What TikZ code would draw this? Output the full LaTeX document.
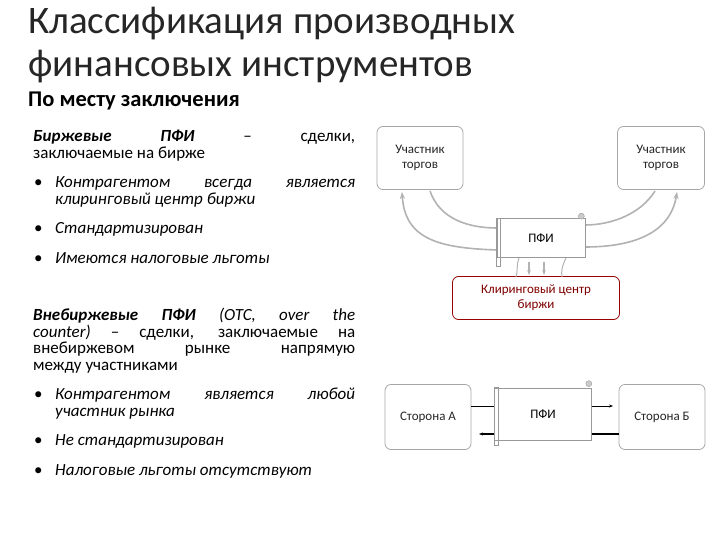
\documentclass[tikz,border=0pt]{standalone}
\usepackage{fontspec}
\setmainfont{Carlito}
\usetikzlibrary{arrows.meta}
\newcommand{\bitem}{\par\vspace{13pt}\noindent\hangindent=22pt\hangafter=1\makebox[22pt][l]{\hspace{1pt}•}}
\tikzset{
 box/.style={draw=gray!70,rounded corners=6pt,line width=0.8pt,align=center,font=\fontsize{13}{15}\selectfont,text=black!85},
 scroll/.style={draw=gray!80,fill=white,line width=0.7pt,align=center,font=\fontsize{13}{15}\selectfont},
 garr/.style={draw=gray!60,line width=1.6pt},
 body/.style={anchor=north west,text width=322pt,align=justify,font=\fontsize{17}{16.5}\selectfont,inner sep=0pt},
}
\begin{document}
\begin{tikzpicture}[x=1pt,y=-1pt]
\useasboundingbox (0,0) rectangle (720,540);
\node[anchor=west,inner sep=0pt,font=\fontsize{39}{39}\selectfont,text=black!85] (t1) at (28,24) {Классификация производных};
\node[anchor=west,inner sep=0pt,font=\fontsize{39}{39}\selectfont,text=black!85] (t2) at (28,67) {финансовых инструментов};
\node[anchor=west,inner sep=0pt,font=\fontsize{22.5}{22}\selectfont\bfseries] (t3) at (28,101) {По месту заключения};
\node[body] (b1) at (33,130) {\textbf{\textit{Биржевые ПФИ}} – сделки,\linebreak заключаемые на бирже
\bitem\textit{Контрагентом всегда является\linebreak клиринговый центр биржи}
\bitem\textit{Стандартизирован}
\bitem\textit{Имеются налоговые льготы}\par};
\node[body] (b2) at (33,308) {\textbf{\textit{Внебиржевые ПФИ}} \textit{(OTC, over the\linebreak counter)} – сделки, заключаемые на\linebreak внебиржевом рынке напрямую\linebreak между участниками
\bitem\textit{Контрагентом является любой\linebreak участник рынка}
\bitem\textit{Не стандартизирован}
\bitem\textit{Налоговые льготы отсутствуют}\par};
% top diagram
\node[box,minimum width=86pt,minimum height=63pt] (u1) at (420,158) {Участник\\торгов};
\node[box,minimum width=87pt,minimum height=63pt] (u2) at (661,158) {Участник\\торгов};
\node[box,draw=red!60!black,text=red!50!black,minimum width=167pt,minimum height=43pt] (kc) at (536,298) {Клиринговый центр\\биржи};
\coordinate (c1) at (430,191); \coordinate (c2) at (402,192);
\coordinate (c3) at (655,191); \coordinate (c4) at (677,192);
\coordinate (p1) at (497,228); \coordinate (p2) at (497,250);
\coordinate (p3) at (585,225); \coordinate (p4) at (585,247);
\draw[garr] (c1) .. controls (440,220) and (470,228) .. (p1);
\draw[garr,-{Stealth[length=7pt]}] (p2) .. controls (440,248) and (405,240) .. (c2);
\draw[garr] (c3) .. controls (640,215) and (610,225) .. (p3);
\draw[garr,-{Stealth[length=7pt]}] (p4) .. controls (630,247) and (670,235) .. (c4);
\coordinate (d1) at (529,262); \coordinate (d2) at (544,262);
\coordinate (e1) at (529,275); \coordinate (e2) at (544,275);
\draw[garr,line width=1.3pt,-{Stealth[length=5pt]}] (d1) -- (e1);
\draw[garr,line width=1.3pt,-{Stealth[length=5pt]}] (d2) -- (e2);
\draw[garr,line width=1pt] (519,258) .. controls (516,266) and (518,272) .. (516,277);
\draw[garr,line width=1pt] (566,258) .. controls (562,266) and (561,272) .. (562,277);
\node[scroll,minimum width=88pt,minimum height=39pt] (pf1) at (541,238) {ПФИ};
\draw[gray!80,line width=0.7pt] (pf1.north west) rectangle ++(4,48);
\draw[gray!80,fill=gray!40] (pf1.north east) ++(-4,-2) circle (3pt);
% bottom diagram
\node[box,minimum width=86pt,minimum height=65pt] (sa) at (428,417) {Сторона А};
\node[box,minimum width=86pt,minimum height=65pt] (sb) at (662,417) {Сторона Б};
\node[scroll,minimum width=97pt,minimum height=52pt] (pf2) at (543,414) {ПФИ};
\draw[gray!80,line width=0.7pt] (pf2.north west) rectangle ++(4,58);
\draw[gray!80,fill=gray!40] (pf2.north east) ++(-3,-4) circle (3pt);
\draw[line width=0.8pt] (sa.east |- 0,406) -- (pf2.west |- 0,406);
\draw[line width=1.2pt,-{Stealth[length=4pt]}] (pf2.west |- 0,434) -- (479,434);
\draw[line width=0.8pt,-{Stealth[length=4pt]}] (pf2.east |- 0,406) -- (613,406);
\draw[line width=1.2pt] (pf2.east |- 0,434) -- (sb.west |- 0,434);
\end{tikzpicture}
\end{document}
